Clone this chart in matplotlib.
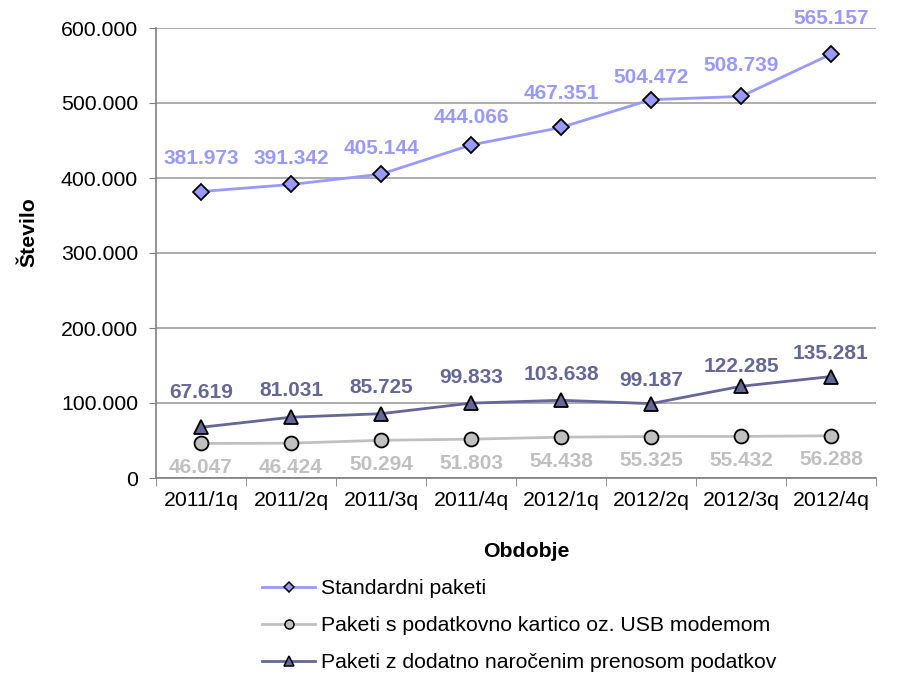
import numpy as np
import matplotlib
matplotlib.use('Agg')
import matplotlib.pyplot as plt
from matplotlib.lines import Line2D

plt.rcParams['font.family'] = ['Liberation Sans', 'DejaVu Sans']

periods = ['2011/1q', '2011/2q', '2011/3q', '2011/4q',
           '2012/1q', '2012/2q', '2012/3q', '2012/4q']
standard = [381973, 391342, 405144, 444066, 467351, 504472, 508739, 565157]
usb = [46047, 46424, 50294, 51803, 54438, 55325, 55432, 56288]
extra = [67619, 81031, 85725, 99833, 103638, 99187, 122285, 135281]

names = ['Standardni paketi',
         'Paketi s podatkovno kartico oz. USB modemom',
         'Paketi z dodatno naročenim prenosom podatkov']

# label offsets in pixels (the labels were nudged by hand in the original)
off_standard = [33, 26, 26, 27, 34, 22, 31, 36]
off_usb = [-24] * 8
off_extra = [35, 27, 26, 26, 26, 23, 20, 23]


def fmt(v):
    return '{:,}'.format(v).replace(',', '.')


fig = plt.figure(figsize=(9.03, 6.74), dpi=100)
ax = fig.add_axes([156 / 903, 1 - 478 / 674, 720 / 903, 450 / 674])

x = np.arange(len(periods))
series = [
    (standard, '#9999FF', 'D', 8, off_standard, 5),
    (usb, '#C0C0C0', 'o', 10, off_usb, 6.5),
    (extra, '#666699', '^', 10, off_extra, 7),
]
handles = []
for (vals, col, mk, ms, offs, lms), name in zip(series, names):
    ax.plot(x, vals, color=col, lw=2, marker=mk, markersize=ms,
            markerfacecolor=col, markeredgecolor='black',
            markeredgewidth=1.3, zorder=3)
    handles.append(Line2D([], [], color=col, lw=2, marker=mk, markersize=lms,
                          markerfacecolor=col, markeredgecolor='black',
                          markeredgewidth=1.1, label=name))
    for xi, v, o in zip(x, vals, offs):
        ax.annotate(fmt(v), (xi, v), xytext=(0, o), textcoords='offset pixels',
                    ha='center', va='center', fontsize=15,
                    fontweight='bold', color=col)

ax.set_xlim(-0.5, len(periods) - 0.5)
ax.set_ylim(0, 600000)
yt = np.arange(0, 600001, 100000)
ax.set_yticks(yt)
ax.set_yticklabels([fmt(int(v)) for v in yt], fontsize=15.3)
ax.set_xticks(x)
ax.set_xticklabels(periods, fontsize=15.3)
ax.set_xticks(np.arange(-0.5, len(periods), 1), minor=True)
ax.tick_params(axis='x', which='major', length=0, pad=9)
ax.tick_params(axis='x', which='minor', length=6, color='#808080')
ax.tick_params(axis='y', length=5, color='#808080', pad=8)
ax.yaxis.grid(True, color='#A0A0A0', lw=1.2)
ax.set_axisbelow(True)
for s in ['top', 'right']:
    ax.spines[s].set_visible(False)
for s in ['left', 'bottom']:
    ax.spines[s].set_color('#808080')
    ax.spines[s].set_linewidth(1.2)

ax.set_ylabel('Število', fontsize=15.3, fontweight='bold', labelpad=16,
              y=0.547)
ax.set_xlabel('Obdobje', fontsize=15.3, fontweight='bold', labelpad=23.5,
              x=0.514)

fig.legend(handles=handles, loc='upper left',
           bbox_to_anchor=(262 / 903, 1 - 579 / 674),
           frameon=False, fontsize=15.3, handlelength=2.5, labelspacing=0.85,
           handletextpad=0.3, borderpad=0, borderaxespad=0)

fig.savefig('out.png', dpi=100)
